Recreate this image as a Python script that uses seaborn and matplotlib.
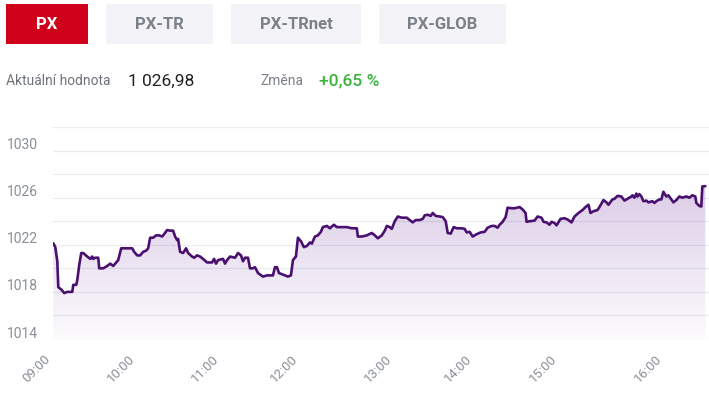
import numpy as np
import pandas as pd
import seaborn as sns
import matplotlib.pyplot as plt
import matplotlib.transforms as mtransforms
from matplotlib.patches import Rectangle

# Index tabs and summary
tabs = ['PX', 'PX-TR', 'PX-TRnet', 'PX-GLOB']
current_label = 'Aktuální hodnota'
current_value = '1 026,98'
change_label = 'Změna'
change_value = '+0,65 %'

# Intraday series: position along the (category) time axis and index value
pos = [0, 2, 4, 5, 8, 11, 14, 19, 20, 23, 24, 26, 28, 30, 34, 37, 39, 40, 42, 45,
       46, 50, 54, 57, 60, 62, 65, 68, 70, 74, 79, 81, 84, 87, 90, 93, 95, 97, 100, 103,
       106, 109, 111, 114, 117, 120, 122, 124, 125, 127, 130, 133, 135, 139, 141, 144, 147, 150, 154, 159,
       161, 163, 165, 170, 172, 174, 177, 182, 185, 188, 190, 192, 195, 197, 200, 202, 205, 210, 214, 217,
       220, 222, 224, 226, 232, 235, 238, 240, 243, 245, 248, 251, 254, 257, 259, 262, 265, 268, 270, 274,
       277, 281, 284, 289, 294, 299, 304, 305, 309, 314, 319, 322, 325, 329, 332, 334, 337, 339, 342, 345,
       349, 354, 357, 360, 363, 367, 370, 372, 375, 378, 380, 383, 387, 390, 393, 395, 398, 401, 404, 409,
       412, 414, 417, 420, 424, 428, 432, 435, 439, 442, 445, 447, 450, 453, 455, 459, 462, 467, 470, 473,
       474, 477, 482, 485, 489, 491, 494, 497, 499, 502, 504, 508, 512, 515, 519, 522, 526, 530, 533, 536,
       538, 541, 545, 547, 551, 554, 556, 560, 562, 565, 569, 572, 575, 579, 580, 582, 584, 585, 587, 589,
       591, 594, 596, 600, 602, 604, 607, 609, 611, 614, 616, 619, 621, 624, 627, 630, 634, 637, 640, 643,
       644, 647, 649, 650, 653]
value = [1022.13, 1021.8, 1020.6, 1018.4, 1018.2, 1017.9, 1018.0, 1018.0, 1018.6, 1018.6,
         1019.0, 1020.3, 1021.3, 1021.3, 1021.0, 1020.8, 1021.0, 1020.8, 1020.9, 1020.9,
         1020.0, 1020.0, 1020.2, 1020.4, 1020.2, 1020.4, 1020.7, 1021.7, 1021.7, 1021.7,
         1021.7, 1021.4, 1021.1, 1021.1, 1021.4, 1021.5, 1021.7, 1022.6, 1022.6, 1022.8,
         1022.8, 1022.7, 1022.9, 1023.25, 1023.2, 1023.2, 1022.7, 1022.4, 1022.5, 1021.4,
         1021.3, 1021.7, 1021.3, 1021.0, 1020.9, 1021.1, 1021.0, 1020.8, 1020.5, 1020.5,
         1020.8, 1020.4, 1020.7, 1020.8, 1020.4, 1020.7, 1021.0, 1020.9, 1021.3, 1021.1,
         1020.6, 1020.9, 1020.9, 1020.0, 1020.0, 1020.1, 1019.6, 1019.3, 1019.4, 1019.4,
         1019.4, 1020.1, 1020.1, 1019.6, 1019.4, 1019.3, 1019.4, 1020.7, 1021.0, 1022.6,
         1022.3, 1021.8, 1021.9, 1022.2, 1022.1, 1022.7, 1022.8, 1023.1, 1023.5, 1023.6,
         1023.4, 1023.7, 1023.5, 1023.5, 1023.5, 1023.4, 1023.4, 1022.7, 1022.7, 1022.8,
         1023.0, 1022.8, 1022.55, 1022.8, 1023.2, 1023.6, 1023.5, 1023.35, 1024.0, 1024.4,
         1024.3, 1024.3, 1024.1, 1023.9, 1024.1, 1024.1, 1024.2, 1024.5, 1024.55, 1024.45,
         1024.7, 1024.45, 1024.4, 1024.35, 1024.0, 1023.0, 1022.95, 1023.5, 1023.4, 1023.4,
         1023.35, 1023.05, 1023.1, 1022.7, 1022.9, 1023.05, 1023.1, 1023.45, 1023.6, 1023.6,
         1023.45, 1023.7, 1023.95, 1024.35, 1025.15, 1025.1, 1025.1, 1025.2, 1025.0, 1024.7,
         1023.95, 1024.0, 1024.05, 1024.4, 1024.3, 1023.95, 1023.9, 1023.7, 1023.95, 1023.85,
         1023.65, 1024.2, 1024.25, 1024.15, 1023.9, 1024.4, 1024.7, 1024.95, 1025.2, 1025.4,
         1024.7, 1024.85, 1024.95, 1025.2, 1025.8, 1025.6, 1025.4, 1025.85, 1025.9, 1026.15,
         1026.1, 1025.75, 1025.9, 1026.1, 1026.2, 1026.0, 1026.35, 1026.1, 1026.3, 1026.1,
         1025.7, 1025.75, 1025.6, 1025.7, 1025.55, 1025.7, 1025.85, 1025.85, 1026.5, 1026.1,
         1026.2, 1025.85, 1025.6, 1025.8, 1026.1, 1026.0, 1026.1, 1026.0, 1026.2, 1026.1,
         1025.55, 1025.3, 1025.25, 1026.95, 1026.98]

# Hour labels and where they fall on the category axis
hour_labels = ['09:00', '10:00', '11:00', '12:00', '13:00', '14:00', '15:00', '16:00']
hour_pos = [0, 84, 168, 247, 342, 422, 507, 612]

y_labels = [1014, 1018, 1022, 1026, 1030]
y_grid = [1016, 1020, 1024, 1028, 1032]

df = pd.DataFrame({'pos': pos, 'value': value})

sns.set_theme(style='white')
plt.rcParams['font.family'] = ['Roboto', 'DejaVu Sans']

W, H = 709, 399
fig = plt.figure(figsize=(W / 100, H / 100), dpi=100)


def fx(px):
    return px / W


def fy(py):
    return 1 - py / H


# header tabs
tab_boxes = [(6, 88), (106, 213), (231, 361), (379, 506)]
for i, (name, (x0, x1)) in enumerate(zip(tabs, tab_boxes)):
    active = i == 0
    fig.patches.append(Rectangle((fx(x0), fy(44)), fx(x1 - x0), 40 / H,
                                 transform=fig.transFigure,
                                 facecolor='#d0021b' if active else '#f3f3f7',
                                 edgecolor='none'))
    fig.text(fx((x0 + x1) / 2), fy(24.5), name, ha='center', va='center',
             fontsize=12, fontweight='bold',
             color='white' if active else '#7b8089')

fig.text(fx(6), fy(81), current_label, ha='left', va='center', fontsize=10, color='#6f747c')
fig.text(fx(128), fy(81), current_value, ha='left', va='center', fontsize=12.5, color='#222222')
fig.text(fx(260), fy(81), change_label, ha='left', va='center', fontsize=10, color='#7b8089')
fig.text(fx(319), fy(81), change_value, ha='left', va='center', fontsize=12.5,
         fontweight='medium', color='#3cb43c')

# chart
ax = fig.add_axes([fx(53.3), fy(339), fx(709 - 53.3), (339 - 127) / H])
x_max = 656.7
y_min, y_max = 1014, 1032

# gradient fill under the line
fill = ax.fill_between(df['pos'], df['value'], y_min, color='none', lw=0)
grad = np.zeros((256, 1, 4))
grad[..., 0], grad[..., 1], grad[..., 2] = 0.45, 0.22, 0.62
grad[..., 3] = np.linspace(0.27, 0.02, 256)[:, None]
img = ax.imshow(grad, extent=[0, x_max, y_min, 1028], aspect='auto',
                origin='upper', zorder=1, interpolation='bilinear')
img.set_clip_path(fill.get_paths()[0], transform=ax.transData)

sns.lineplot(data=df, x='pos', y='value', ax=ax, color='#4a1070', lw=1.9, zorder=3)

ax.set_xlim(0, x_max)
ax.set_ylim(y_min, y_max)
ax.set_yticks(y_labels)
ax.set_yticks(y_grid, minor=True)
ax.set_xticks(hour_pos)
ax.set_xticklabels(hour_labels, rotation=45, ha='right', va='top')
ax.grid(axis='y', which='both', color='#ebebf0', lw=0.9, zorder=0)
ax.set_axisbelow(True)
ax.tick_params(axis='y', which='both', length=0, pad=11, labelsize=10, labelcolor='#8a8f97')
ax.tick_params(axis='x', length=0, pad=10, labelsize=9.5, labelcolor='#8a8f97')
offset = mtransforms.ScaledTranslation(0, 7 / 100, fig.dpi_scale_trans)
for lab in ax.get_yticklabels():
    lab.set_transform(lab.get_transform() + offset)
ax.set_xlabel('')
ax.set_ylabel('')
sns.despine(ax=ax, left=True, bottom=True, top=True, right=True)

fig.savefig('out.png', dpi=100)
